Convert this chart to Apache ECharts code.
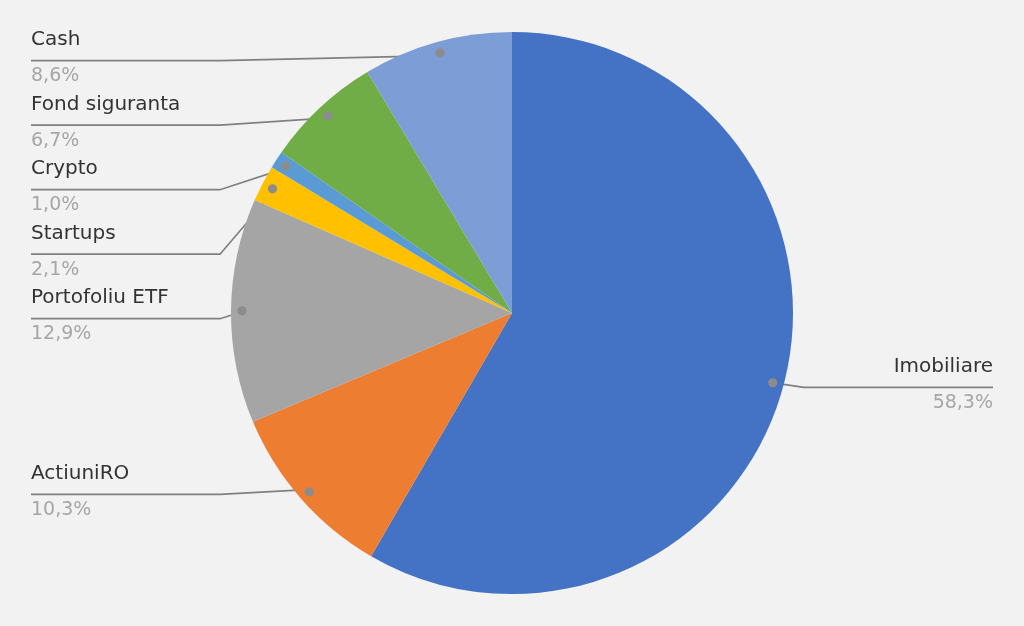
<!DOCTYPE html>
<html>
<head>
<meta charset="utf-8">
<script src="https://cdn.jsdelivr.net/npm/echarts@6/dist/echarts.min.js"></script>
<style>
html,body{margin:0;padding:0;background:#F2F2F2;}
#chart{width:1024px;height:626px;}
</style>
</head>
<body>
<div id="chart"></div>
<script>
const categories = ['Imobiliare', 'ActiuniRO', 'Portofoliu ETF', 'Startups', 'Crypto', 'Fond siguranta', 'Cash'];
const shares = [58.3, 10.3, 12.9, 2.1, 1.0, 6.7, 8.6];
const sliceColors = ['#4472C4', '#ED7D31', '#A5A5A5', '#FFC000', '#5B9BD5', '#70AD47', '#7C9DD6'];

const FONT = 'DejaVu Sans';
const NAME_LH = 41;
const PCT_LH = 31;
const LABEL_W = 189;
const LINE_OFFSET = (NAME_LH - PCT_LH) / 2;

const pieData = categories.map((c, i) => ({ name: c, value: shares[i], itemStyle: { color: sliceColors[i] } }));
const ghostData = categories.map((c, i) => ({ name: c, value: shares[i] }));

function fmtPct(v) { return v.toFixed(1).replace('.', ',') + '%'; }

const chart = echarts.init(document.getElementById('chart'), null, { renderer: 'canvas' });
chart.setOption({
  backgroundColor: '#F2F2F2',
  animation: false,
  series: [
    {
      type: 'pie',
      center: ['50%', '50%'],
      radius: 281,
      startAngle: 90,
      clockwise: true,
      silent: true,
      label: { show: false },
      labelLine: { show: false },
      data: pieData
    },
    {
      type: 'pie',
      center: ['50%', '50%'],
      radius: 267,
      startAngle: 90,
      clockwise: true,
      silent: true,
      itemStyle: { color: 'rgba(0,0,0,0)' },
      label: {
        show: true,
        position: 'outer',
        alignTo: 'edge',
        edgeDistance: 31,
        minMargin: 9,
        formatter: p => '{n|' + p.name + '}\n{p|' + fmtPct(p.value) + '}',
        rich: {
          n: { fontFamily: FONT, fontSize: 20, color: '#333333', lineHeight: NAME_LH },
          p: { fontFamily: FONT, fontSize: 19, color: '#A6A6A6', lineHeight: PCT_LH }
        }
      },
      labelLine: { show: true, length: 0, length2: 0, lineStyle: { color: '#808080', width: 1.7 } },
      labelLayout: function (p) {
        const pts = p.labelLinePoints;
        if (!pts) return {};
        const r = p.labelRect;
        const start = pts[0];
        const isLeft = (r.x + r.width / 2) < start[0];
        const far = isLeft ? r.x : r.x + r.width;
        const near = isLeft ? far + LABEL_W : far - LABEL_W;
        const y = pts[2][1] + LINE_OFFSET;
        return { labelLinePoints: [start, [near, y], [far, y]] };
      },
      data: ghostData
    },
    {
      type: 'pie',
      center: ['50%', '50%'],
      radius: [261, 273],
      startAngle: 90,
      clockwise: true,
      silent: true,
      itemStyle: { color: 'rgba(0,0,0,0)' },
      label: {
        show: true,
        position: 'inside',
        formatter: '●',
        fontSize: 12,
        color: '#8C8C8C',
        fontFamily: 'DejaVu Sans'
      },
      labelLine: { show: false },
      data: ghostData
    }
  ]
});
</script>
</body>
</html>
